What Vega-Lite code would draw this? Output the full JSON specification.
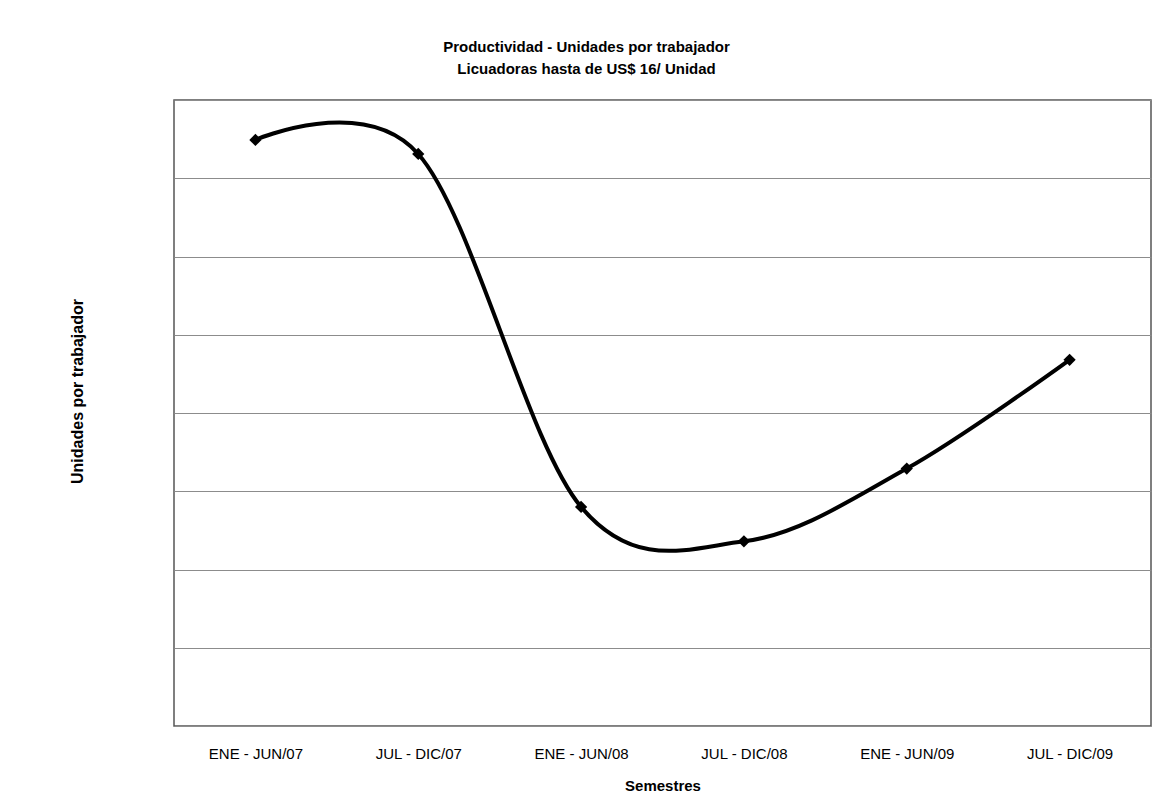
{
  "$schema": "https://vega.github.io/schema/vega-lite/v6.json",
  "autosize": "none",
  "width": 977,
  "height": 626,
  "padding": {"left": 174, "top": 100, "right": 9, "bottom": 80},
  "background": "white",
  "config": {
    "view": {"stroke": "#555555", "strokeWidth": 1.5},
    "font": "Liberation Sans"
  },
  "title": {
    "text": ["Productividad - Unidades por trabajador", "Licuadoras hasta de US$ 16/ Unidad"],
    "font": "Liberation Sans",
    "fontSize": 15,
    "fontWeight": "bold",
    "color": "#000000",
    "anchor": "middle",
    "frame": "group",
    "dx": -76,
    "offset": 23,
    "lineHeight": 22
  },
  "data": {
    "values": [
      {"semestre": "ENE - JUN/07", "unidades": 7.49},
      {"semestre": "JUL - DIC/07", "unidades": 7.31},
      {"semestre": "ENE - JUN/08", "unidades": 2.80},
      {"semestre": "JUL - DIC/08", "unidades": 2.36},
      {"semestre": "ENE - JUN/09", "unidades": 3.29},
      {"semestre": "JUL - DIC/09", "unidades": 4.68}
    ]
  },
  "encoding": {
    "x": {
      "field": "semestre",
      "type": "nominal",
      "sort": null,
      "scale": {"paddingInner": 0, "paddingOuter": 0},
      "axis": {
        "title": "Semestres",
        "titleFont": "Liberation Sans",
        "titleFontSize": 15,
        "titleFontWeight": "bold",
        "titleColor": "#000000",
        "titlePadding": 17,
        "labelAngle": 0,
        "labelFont": "Liberation Sans",
        "labelFontSize": 15,
        "labelColor": "#000000",
        "labelPadding": 20,
        "ticks": false,
        "domain": false,
        "grid": false
      }
    },
    "y": {
      "field": "unidades",
      "type": "quantitative",
      "scale": {"domain": [0, 8], "nice": false},
      "axis": {
        "title": "Unidades por trabajador",
        "titleFont": "Liberation Sans",
        "titleFontSize": 16,
        "titleFontWeight": "bold",
        "titleColor": "#000000",
        "titleAngle": -90,
        "titleX": -97,
        "titleY": 291,
        "titleAlign": "center",
        "titleBaseline": "middle",
        "values": [0, 1, 2, 3, 4, 5, 6, 7, 8],
        "labels": false,
        "ticks": false,
        "domain": false,
        "grid": true,
        "gridColor": "#8c8c8c",
        "gridWidth": 1
      }
    }
  },
  "layer": [
    {
      "mark": {"type": "line", "interpolate": "cardinal", "tension": 0, "color": "#000000", "strokeWidth": 4}
    },
    {
      "mark": {"type": "point", "shape": "diamond", "filled": true, "color": "#000000", "size": 150, "opacity": 1}
    }
  ]
}
